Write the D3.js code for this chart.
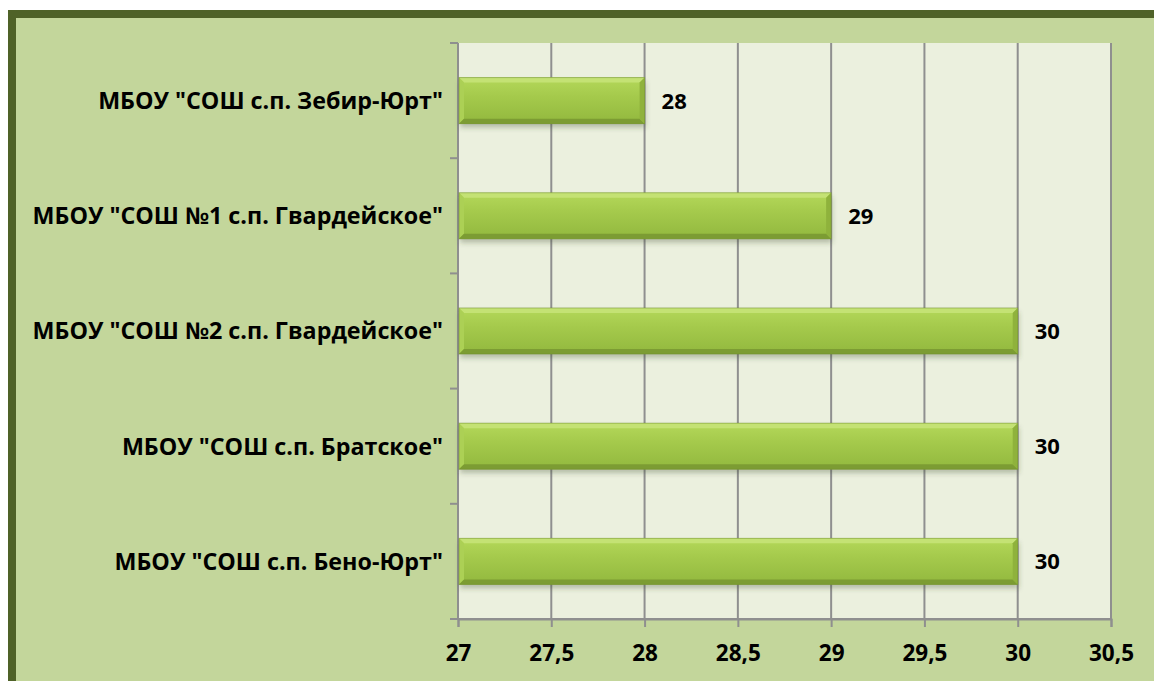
<!DOCTYPE html>
<html>
<head>
<meta charset="utf-8">
<script src="https://cdn.jsdelivr.net/npm/d3@7"></script>
<style>
  body { margin: 0; background: #ffffff; }
  svg { display: block; }
  text { font-family: "Open Sans", sans-serif; font-weight: bold; fill: #000; }
</style>
</head>
<body>
<div id="chart"></div>
<script>
const width = 1154;
const height = 681;
const margin = { left: 458, right: 43, top: 43, bottom: 62 };

// data, top to bottom as drawn
const schools = [
  'МБОУ "СОШ с.п. Зебир-Юрт"',
  'МБОУ "СОШ №1 с.п. Гвардейское"',
  'МБОУ "СОШ №2 с.п. Гвардейское"',
  'МБОУ "СОШ с.п. Братское"',
  'МБОУ "СОШ с.п. Бено-Юрт"'
];
const values = [28, 29, 30, 30, 30];
const x_ticks = [27, 27.5, 28, 28.5, 29, 29.5, 30, 30.5];

const svg = d3.select('#chart')
  .append('svg')
    .attr('width', width)
    .attr('height', height);

const defs = svg.append('defs');
const grad = defs.append('linearGradient')
  .attr('id', 'bar-grad')
  .attr('x1', 0).attr('y1', 0).attr('x2', 0).attr('y2', 1);
grad.append('stop').attr('offset', '0%').attr('stop-color', '#b4d85a');
grad.append('stop').attr('offset', '40%').attr('stop-color', '#a5ca4c');
grad.append('stop').attr('offset', '100%').attr('stop-color', '#92b83e');

const shadow = defs.append('filter')
  .attr('id', 'shadow')
  .attr('x', '-5%').attr('y', '-20%').attr('width', '110%').attr('height', '160%');
shadow.append('feGaussianBlur').attr('stdDeviation', 2.5);

// chart area with frame
svg.append('rect')
  .attr('x', 12).attr('y', 14)
  .attr('width', width + 20).attr('height', height + 20)
  .attr('fill', '#c3d69b')
  .attr('stroke', '#4f6228')
  .attr('stroke-width', 8);

const w = width - margin.left - margin.right;
const h = height - margin.top - margin.bottom;

const g = svg.append('g')
  .attr('transform', 'translate(' + margin.left + ',' + margin.top + ')');

const x_scale = d3.scaleLinear()
  .domain([27, 30.5])
  .range([0, w]);
const y_scale = d3.scaleBand()
  .domain(schools)
  .range([0, h])
  .paddingInner(0.6)
  .paddingOuter(0.3);

// plot area
g.append('rect')
  .attr('width', w).attr('height', h)
  .attr('fill', '#ebf0de');

// vertical gridlines
g.selectAll('.grid')
    .data(x_ticks.slice(1))
  .join('line')
    .attr('class', 'grid')
    .attr('x1', d => x_scale(d)).attr('x2', d => x_scale(d))
    .attr('y1', 0).attr('y2', h)
    .attr('stroke', '#8f8f8f')
    .attr('stroke-width', 2);

// y axis with ticks at the band boundaries
const step = y_scale.step();
const y_axis = g.append('g');
y_axis.append('line')
  .attr('x1', 0).attr('x2', 0).attr('y1', 0).attr('y2', h)
  .attr('stroke', '#8f8f8f').attr('stroke-width', 2);
y_axis.selectAll('.ytick')
    .data(d3.range(schools.length + 1))
  .join('line')
    .attr('class', 'ytick')
    .attr('x1', -8).attr('x2', 0)
    .attr('y1', i => i * step).attr('y2', i => i * step)
    .attr('stroke', '#8f8f8f').attr('stroke-width', 2);

y_axis.selectAll('.cat')
    .data(schools)
  .join('text')
    .attr('class', 'cat')
    .attr('x', -15)
    .attr('y', d => y_scale(d) + y_scale.bandwidth() / 2)
    .attr('dy', '0.36em')
    .attr('text-anchor', 'end')
    .style('font-size', '23.3px')
    .text(d => d);

// x axis
const x_axis = g.append('g')
  .attr('transform', 'translate(0,' + h + ')')
  .call(d3.axisBottom(x_scale)
    .tickValues(x_ticks)
    .tickSizeOuter(0)
    .tickSize(8)
    .tickPadding(18)
    .tickFormat(d => String(d).replace('.', ',')));
x_axis.select('.domain').attr('stroke', '#8f8f8f').attr('stroke-width', 2);
x_axis.selectAll('.tick line').attr('stroke', '#8f8f8f').attr('stroke-width', 2);
x_axis.selectAll('.tick text')
  .style('font-size', '22.5px')
  .style('font-family', '"Open Sans", sans-serif')
  .attr('fill', '#000');
x_axis.append('line')
  .attr('x1', -8).attr('x2', w).attr('y1', 0).attr('y2', 0)
  .attr('stroke', '#8f8f8f').attr('stroke-width', 2);

// bars
const rows = schools.map((s, i) => ({ name: s, value: values[i] }));
const bars = g.selectAll('.bar')
    .data(rows)
  .join('g')
    .attr('class', 'bar')
    .attr('transform', d => 'translate(1,' + y_scale(d.name) + ')');

const bw = d => x_scale(d.value) - 1;
const bh = y_scale.bandwidth();
const bev = 5;

bars.append('rect')
  .attr('x', 1).attr('y', 4)
  .attr('width', d => bw(d))
  .attr('height', bh)
  .attr('fill', 'rgba(60,70,40,0.3)')
  .attr('filter', 'url(#shadow)');
bars.append('rect')
  .attr('width', d => bw(d))
  .attr('height', bh)
  .attr('fill', 'url(#bar-grad)');
// bevel edges
bars.append('path')
  .attr('d', d => `M0,0 L${bw(d)},0 L${bw(d) - bev},${bev} L${bev},${bev} Z`)
  .attr('fill', '#c4e274');
bars.append('path')
  .attr('d', d => `M0,0 L${bev},${bev} L${bev},${bh - bev} L0,${bh} Z`)
  .attr('fill', '#acd055');
bars.append('path')
  .attr('d', d => `M0,${bh} L${bev},${bh - bev} L${bw(d) - bev},${bh - bev} L${bw(d)},${bh} Z`)
  .attr('fill', '#7c9c33');
bars.append('path')
  .attr('d', d => `M${bw(d)},0 L${bw(d)},${bh} L${bw(d) - bev},${bh - bev} L${bw(d) - bev},${bev} Z`)
  .attr('fill', '#8fb23c');
bars.append('rect')
  .attr('width', d => bw(d))
  .attr('height', bh)
  .attr('fill', 'none')
  .attr('stroke', '#6f8e2c')
  .attr('stroke-opacity', 0.5)
  .attr('stroke-width', 1);

// value labels
g.selectAll('.value')
    .data(rows)
  .join('text')
    .attr('class', 'value')
    .attr('x', d => x_scale(d.value) + 17)
    .attr('y', d => y_scale(d.name) + y_scale.bandwidth() / 2)
    .attr('dy', '0.36em')
    .style('font-size', '22px')
    .text(d => d.value);
</script>
</body>
</html>
